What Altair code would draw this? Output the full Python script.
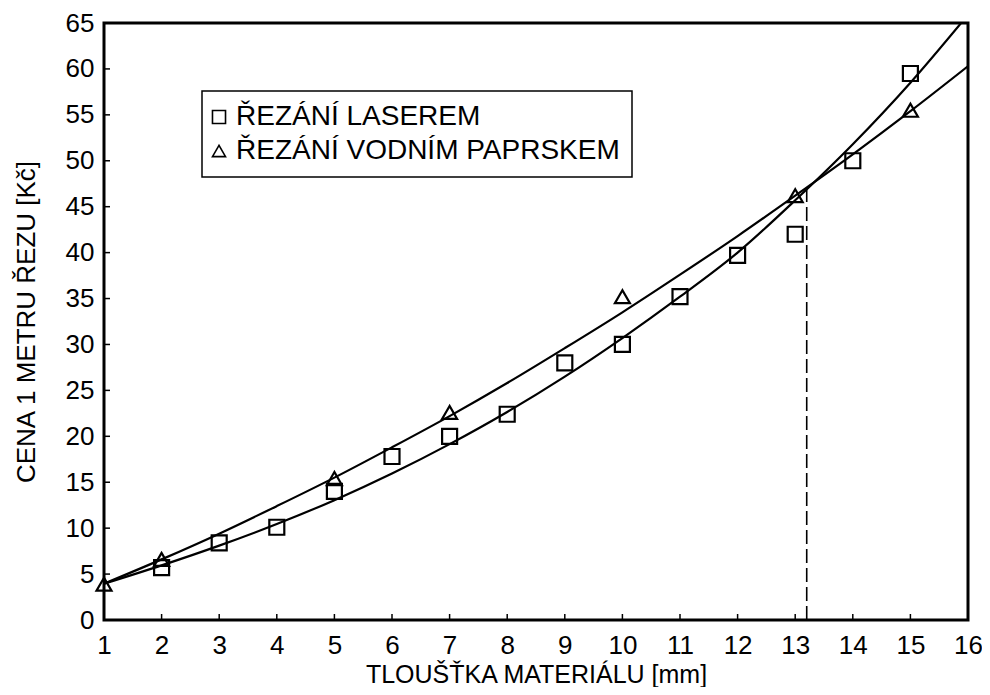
import altair as alt
import pandas as pd

# ---- data ----
laser_x = [2, 3, 4, 5, 6, 7, 8, 9, 10, 11, 12, 13, 14, 15]
laser_y = [5.7, 8.4, 10.1, 14.0, 17.8, 20.0, 22.4, 28.0, 30.0, 35.2, 39.7, 42.0, 50.0, 59.5]
water_x = [1, 2, 5, 7, 10, 13, 15]
water_y = [3.9, 6.6, 15.4, 22.6, 35.2, 46.2, 55.5]

curve_x = [1, 2, 3, 4, 5, 6, 7, 8, 9, 10, 11, 12, 13, 14, 15, 16]
laser_curve = [3.95, 5.95, 8.1, 10.45, 13.05, 15.95, 19.15, 22.65, 26.5, 30.7, 35.2, 40.0, 45.7, 51.8, 58.5, 65.9]
water_curve = [3.95, 6.6, 9.4, 12.4, 15.5, 18.8, 22.2, 25.8, 29.6, 33.5, 37.6, 41.8, 46.2, 50.7, 55.4, 60.3]

cross_x = [13.2]
cross_y = [46.9]

x_ticks = list(range(1, 17))
y_ticks = list(range(0, 66, 5))

LASER = "ŘEZÁNÍ LASEREM"
WATER = "ŘEZÁNÍ VODNÍM PAPRSKEM"
series_names = [LASER, WATER]

FONT = "Liberation Sans"

points = pd.DataFrame(
    {"x": laser_x + water_x,
     "y": laser_y + water_y,
     "s": [LASER] * len(laser_x) + [WATER] * len(water_x)}
)
curves = pd.DataFrame(
    {"x": curve_x + curve_x,
     "y": laser_curve + water_curve,
     "s": [LASER] * len(curve_x) + [WATER] * len(curve_x)}
)
cross = pd.DataFrame({"x": cross_x, "y0": [0] * len(cross_x), "y": cross_y})
xt = pd.DataFrame({"x": x_ticks})
yt = pd.DataFrame({"y": y_ticks})

xscale = alt.Scale(domain=[1, 16], nice=False, zero=False)
yscale = alt.Scale(domain=[0, 65], nice=False)

XTITLE = "TLOUŠŤKA MATERIÁLU [mm]"
YTITLE = "CENA 1 METRU ŘEZU [Kč]"

xaxis = alt.Axis(values=x_ticks, title=XTITLE, grid=False, domain=False, tickSize=0,
                 labelPadding=12, labelFlush=False, labelOverlap=False,
                 titleY=62, titleBaseline="alphabetic", titleFontSize=25)
yaxis = alt.Axis(values=y_ticks, title=YTITLE, grid=False, domain=False, tickSize=0,
                 labelPadding=10, labelFlush=False, labelOverlap=False, titlePadding=26)


def X(field="x"):
    return alt.X(f"{field}:Q", scale=xscale, axis=xaxis, title=XTITLE)


def Y(field="y"):
    return alt.Y(f"{field}:Q", scale=yscale, axis=yaxis, title=YTITLE)


lines = alt.Chart(curves).mark_line(
    color="black", strokeWidth=2.2, interpolate="monotone", clip=True
).encode(x=X(), y=Y(), detail="s:N")

pts = alt.Chart(points).mark_point(
    filled=False, color="black", strokeWidth=2.2, size=225, opacity=1
).encode(
    x=X(),
    y=Y(),
    shape=alt.Shape(
        "s:N",
        scale=alt.Scale(domain=series_names, range=["square", "triangle-up"]),
        legend=alt.Legend(
            title=None, orient="none", legendX=98, legendY=68,
            strokeColor="black", fillColor="white", padding=12,
            labelFont=FONT, labelFontSize=28, labelColor="black", labelLimit=0,
            symbolSize=170, symbolStrokeWidth=1.6, symbolStrokeColor="black",
            symbolOffset=-9, labelOffset=3, rowPadding=6,
        ),
    ),
)

dash = alt.Chart(cross).mark_rule(
    color="black", strokeWidth=1.6, strokeDash=[14, 5]
).encode(x=X(), y=Y("y0"), y2="y:Q")

xtick_marks = alt.Chart(xt).mark_rule(color="black", strokeWidth=1.5).encode(
    x=X(), y=alt.value(597), y2=alt.value(591)
)
ytick_marks = alt.Chart(yt).mark_rule(color="black", strokeWidth=1.5).encode(
    y=Y(), x=alt.value(0), x2=alt.value(6)
)

chart = alt.layer(lines, pts, dash, xtick_marks, ytick_marks).properties(
    width=864, height=597,
    autosize=alt.AutoSizeParams(type="none"),
    padding={"left": 96, "top": 15, "right": 14, "bottom": 67},
    background="white",
).configure_view(
    stroke="black", strokeWidth=3
).configure_axis(
    labelFont=FONT, labelFontSize=26, labelColor="black",
    titleFont=FONT, titleFontSize=26, titleColor="black", titleFontWeight="normal",
).configure_legend(
    strokeWidth=1.5
)

chart.save("out.html", embed_options={"renderer": "svg", "actions": False})
